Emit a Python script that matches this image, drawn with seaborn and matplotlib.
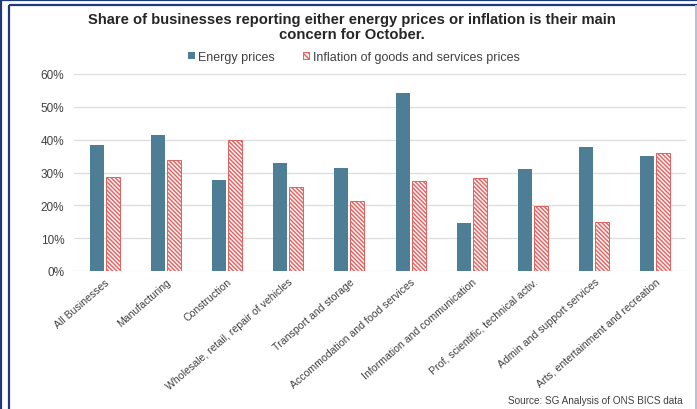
import matplotlib
matplotlib.use("Agg")
import matplotlib.pyplot as plt
from matplotlib.patches import Patch
from matplotlib.lines import Line2D
from matplotlib.ticker import PercentFormatter
import seaborn as sns
import pandas as pd

categories = [
    "All Businesses",
    "Manufacturing",
    "Construction",
    "Wholesale, retail, repair of vehicles",
    "Transport and storage",
    "Accommodation and food services",
    "Information and communication",
    "Prof, scientific, technical activ.",
    "Admin and support services",
    "Arts, entertainment and recreation",
]
energy_prices = [0.385, 0.413, 0.277, 0.330, 0.315, 0.541, 0.145, 0.311, 0.379, 0.350]
inflation_prices = [0.286, 0.338, 0.399, 0.256, 0.212, 0.274, 0.283, 0.198, 0.150, 0.359]
series_names = ["Energy prices", "Inflation of goods and services prices"]
y_ticks = [0.0, 0.1, 0.2, 0.3, 0.4, 0.5, 0.6]

df = pd.DataFrame({
    "Sector": categories * 2,
    "Concern": [series_names[0]] * len(categories) + [series_names[1]] * len(categories),
    "Share": energy_prices + inflation_prices,
})

sns.set_theme(style="white")
plt.rcParams["font.family"] = ["Liberation Sans", "DejaVu Sans"]
plt.rcParams["hatch.linewidth"] = 1.0

BLUE = "#4D7E96"
RED = "#E2615F"
TXT = "#404040"
HATCH = "\\" * 8

fig = plt.figure(figsize=(6.97, 4.10), dpi=100)
ax = fig.add_axes([74 / 697, 138 / 410, 612 / 697, 197 / 410])

sns.barplot(
    data=df, x="Sector", y="Share", hue="Concern", order=categories,
    hue_order=series_names, palette=[BLUE, "white"], width=0.52, gap=0.12,
    saturation=1, legend=False, ax=ax,
)

n = len(categories)
for i, bar in enumerate(ax.patches[:2 * n]):
    if i < n:
        bar.set_edgecolor(BLUE)
        bar.set_linewidth(0)
    else:
        bar.set_facecolor("#FFF4F4")
        bar.set_edgecolor(RED)
        bar.set_hatch(HATCH)
        bar.set_linewidth(0.7)

ax.set_xlim(-0.5, n - 0.5)
ax.set_ylim(0, 0.6)
ax.set_yticks(y_ticks)
ax.yaxis.set_major_formatter(PercentFormatter(1.0, decimals=0))
ax.grid(axis="y", color="#DDDDDD", linewidth=0.9)
ax.set_axisbelow(True)
for s in ax.spines.values():
    s.set_visible(False)
ax.set_xlabel("")
ax.set_ylabel("")
ax.tick_params(axis="y", length=0, pad=7, labelsize=8.5, labelcolor=TXT)
ax.tick_params(axis="x", length=0, pad=4, labelsize=7.6, labelcolor=TXT)
for lab in ax.get_xticklabels():
    lab.set_rotation(41)
    lab.set_ha("right")
    lab.set_va("top")
    lab.set_rotation_mode("anchor")

handles = [
    Patch(facecolor=BLUE, edgecolor=BLUE, linewidth=0),
    Patch(facecolor="#FFF4F4", edgecolor=RED, hatch="\\" * 6, linewidth=0.7),
]
fig.legend(
    handles, series_names, loc="center", bbox_to_anchor=(354 / 697, 1 - 58 / 410),
    ncol=2, frameon=False, fontsize=9, handlelength=0.5, handleheight=0.5,
    handletextpad=0.3, columnspacing=2.2, labelcolor=TXT,
)

fig.text(352 / 697, 1 - 27.5 / 410,
         "Share of businesses reporting either energy prices or inflation is their main\nconcern for October.",
         ha="center", va="center", fontsize=10.6, fontweight="bold", color="#262626",
         linespacing=1.15)

fig.text(683 / 697, 1 - 401 / 410, "Source: SG Analysis of ONS BICS data",
         ha="right", va="center", fontsize=7.2, color=TXT)

# double navy frame on the top and left, thin grey edge on the right
navy = "#1F3A7A"
W, H = 697, 410
def fline(x0, y0, x1, y1, color, lw):
    fig.add_artist(Line2D([x0 / W, x1 / W], [1 - y0 / H, 1 - y1 / H],
                          color=color, linewidth=lw, solid_capstyle="butt"))
fline(1, 0, 1, H, navy, 1.6)
fline(0, 1, W, 1, navy, 1.6)
fline(9, 6, 9, H, navy, 1.6)
fline(9, 6, W, 6, navy, 1.6)
fline(695.5, 6, 695.5, H, "#B8BFD6", 1.4)

fig.savefig("out.png", dpi=100)
